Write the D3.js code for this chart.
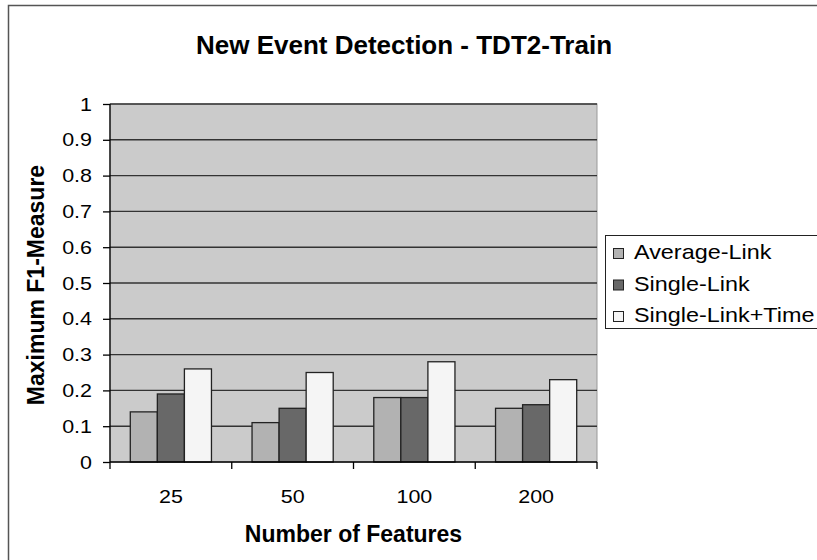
<!DOCTYPE html>
<html>
<head>
<meta charset="utf-8">
<script src="https://cdn.jsdelivr.net/npm/d3@7"></script>
<style>
  body { margin: 0; background: #fff; }
  svg { font-family: "Liberation Sans", Arial, sans-serif; }
</style>
</head>
<body>
<div id="chart"></div>
<script>
// chart data
var categories = ['25', '50', '100', '200'];
var seriesNames = ['Average-Link', 'Single-Link', 'Single-Link+Time'];
var seriesColors = ['#b2b2b2', '#686868', '#f5f5f5'];
var averageLink = [0.14, 0.11, 0.18, 0.15];
var singleLink = [0.19, 0.15, 0.18, 0.16];
var singleLinkTime = [0.26, 0.25, 0.28, 0.23];
var yTicks = [0, 0.1, 0.2, 0.3, 0.4, 0.5, 0.6, 0.7, 0.8, 0.9, 1];

var seriesValues = [averageLink, singleLink, singleLinkTime];

var width = 817, height = 560;
var plot = { left: 110, right: 597, top: 104, bottom: 462 };
var stretch = 1.13; // the original's regular text runs a bit wide

var svg = d3.select('#chart').append('svg')
    .attr('width', width)
    .attr('height', height);

// outer chart border (right / bottom run off the page)
svg.append('rect')
    .attr('x', 8.5).attr('y', 5.5)
    .attr('width', 830).attr('height', 580)
    .attr('fill', '#fff')
    .attr('stroke', '#555')
    .attr('stroke-width', 1.5);

var x = d3.scaleBand()
    .domain(categories)
    .range([plot.left, plot.right])
    .padding(0);

var xSub = d3.scaleBand()
    .domain(d3.range(seriesNames.length))
    .range([0, x.bandwidth()])
    .paddingInner(0)
    .paddingOuter(0.75);

var y = d3.scaleLinear()
    .domain([0, 1])
    .range([plot.bottom, plot.top]);

// plot area
svg.append('rect')
    .attr('x', plot.left).attr('y', plot.top)
    .attr('width', plot.right - plot.left)
    .attr('height', plot.bottom - plot.top)
    .attr('fill', '#cbcbcb')
    .attr('stroke', '#999')
    .attr('stroke-width', 1);

// gridlines
svg.append('g').selectAll('line')
    .data(yTicks.filter(function(d) { return d > 0; }))
    .enter().append('line')
    .attr('x1', plot.left).attr('x2', plot.right)
    .attr('y1', function(d) { return y(d); })
    .attr('y2', function(d) { return y(d); })
    .attr('stroke', '#333')
    .attr('stroke-width', 1.4);

// bars
var groups = svg.append('g').selectAll('g.group')
    .data(categories)
    .enter().append('g')
    .attr('class', 'group')
    .attr('transform', function(d) { return 'translate(' + x(d) + ',0)'; });

groups.selectAll('rect')
    .data(function(d, i) {
        return seriesValues.map(function(vals, s) { return { s: s, v: vals[i] }; });
    })
    .enter().append('rect')
    .attr('x', function(d) { return xSub(d.s); })
    .attr('width', xSub.bandwidth())
    .attr('y', function(d) { return y(d.v); })
    .attr('height', function(d) { return y(0) - y(d.v); })
    .attr('fill', function(d) { return seriesColors[d.s]; })
    .attr('stroke', '#222')
    .attr('stroke-width', 1.3);

// y axis
var axisY = d3.axisLeft(y)
    .tickValues(yTicks)
    .tickSize(7)
    .tickPadding(6)
    .tickFormat(function(d) { return d3.format('')(d); });

var gY = svg.append('g')
    .attr('transform', 'translate(' + plot.left + ',0)')
    .call(axisY);
gY.select('.domain').attr('stroke', '#000').attr('stroke-width', 1.3)
    .attr('d', 'M0,' + plot.top + 'V' + plot.bottom);
gY.selectAll('.tick line').attr('stroke', '#000').attr('stroke-width', 1.3);
gY.selectAll('.tick text')
    .attr('x', 0)
    .attr('transform', 'translate(-18,0) scale(' + stretch + ',1)')
    .attr('font-size', 19)
    .attr('fill', '#000')
    .attr('font-family', '"Liberation Sans", Arial, sans-serif');

// x axis: ticks between categories
var xBounds = categories.map(function(c) { return x(c); }).concat([plot.right]);
var gX = svg.append('g');
gX.append('line')
    .attr('x1', plot.left).attr('x2', plot.right)
    .attr('y1', plot.bottom).attr('y2', plot.bottom)
    .attr('stroke', '#000').attr('stroke-width', 1.3);
gX.selectAll('line.tick')
    .data(xBounds)
    .enter().append('line')
    .attr('class', 'tick')
    .attr('x1', function(d) { return d; }).attr('x2', function(d) { return d; })
    .attr('y1', plot.bottom).attr('y2', plot.bottom + 7)
    .attr('stroke', '#000').attr('stroke-width', 1.3);
gX.selectAll('text')
    .data(categories)
    .enter().append('text')
    .attr('transform', function(d) {
        return 'translate(' + (x(d) + x.bandwidth() / 2) + ',503) scale(' + stretch + ',1)';
    })
    .attr('text-anchor', 'middle')
    .attr('font-size', 19)
    .text(function(d) { return d; });

// titles
svg.append('text')
    .attr('x', 404).attr('y', 54)
    .attr('text-anchor', 'middle')
    .attr('font-size', 26)
    .attr('font-weight', 'bold')
    .text('New Event Detection - TDT2-Train');

svg.append('text')
    .attr('x', (plot.left + plot.right) / 2).attr('y', 542)
    .attr('text-anchor', 'middle')
    .attr('font-size', 23)
    .attr('font-weight', 'bold')
    .text('Number of Features');

svg.append('text')
    .attr('transform', 'translate(43.5,' + ((plot.top + plot.bottom) / 2 + 2) + ') rotate(-90)')
    .attr('text-anchor', 'middle')
    .attr('font-size', 23)
    .attr('font-weight', 'bold')
    .text('Maximum F1-Measure');

// legend
var legend = svg.append('g');
legend.append('rect')
    .attr('x', 605.5).attr('y', 235.5)
    .attr('width', 230).attr('height', 93)
    .attr('fill', '#fff')
    .attr('stroke', '#222')
    .attr('stroke-width', 1);

var items = legend.selectAll('g.item')
    .data(seriesNames)
    .enter().append('g')
    .attr('class', 'item')
    .attr('transform', function(d, i) { return 'translate(613,' + (259 + i * 31.5) + ')'; });

items.append('rect')
    .attr('x', 0.5).attr('y', -10.5)
    .attr('width', 10).attr('height', 10)
    .attr('fill', function(d, i) { return seriesColors[i]; })
    .attr('stroke', '#222')
    .attr('stroke-width', 1);

items.append('text')
    .attr('transform', 'translate(21,0) scale(1.17,1)')
    .attr('font-size', 20)
    .text(function(d) { return d; });
</script>
</body>
</html>
